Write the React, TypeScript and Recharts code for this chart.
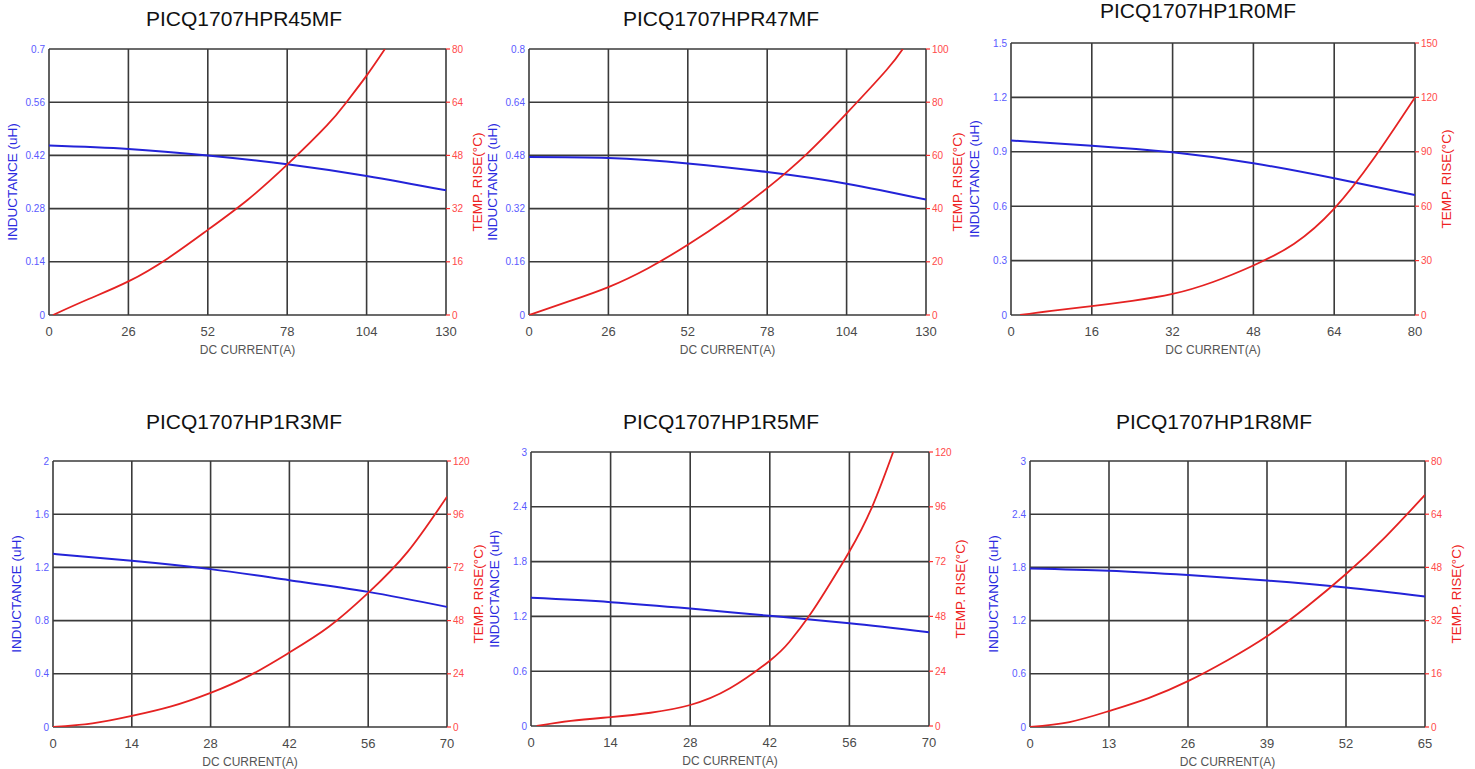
import React from 'react';
import { ComposedChart, Line, XAxis, YAxis, CartesianGrid } from 'recharts';

const FONT = "Arial, 'Liberation Sans', sans-serif";

// ---- Panel 1: PICQ1707HPR45MF ----
const p1Title = 'PICQ1707HPR45MF';
const p1CurrentTicks = [0, 26, 52, 78, 104, 130];
const p1InductanceTicks = [0, 0.14, 0.28, 0.42, 0.56, 0.7];
const p1TempTicks = [0, 16, 32, 48, 64, 80];
const p1LCurrent = [0, 26, 52, 78, 104, 130];
const p1Inductance = [0.446, 0.437, 0.42, 0.397, 0.366, 0.328];
const p1TCurrent = [1.3, 13, 26, 39, 52, 65, 78, 91, 97.4, 104, 110];
const p1TempRise = [0, 4.8, 10.1, 17.1, 25.6, 34.6, 45.2, 57, 64, 72, 80];

// ---- Panel 2: PICQ1707HPR47MF ----
const p2Title = 'PICQ1707HPR47MF';
const p2CurrentTicks = [0, 26, 52, 78, 104, 130];
const p2InductanceTicks = [0, 0.16, 0.32, 0.48, 0.64, 0.8];
const p2TempTicks = [0, 20, 40, 60, 80, 100];
const p2LCurrent = [0, 26, 52, 78, 104, 130];
const p2Inductance = [0.475, 0.472, 0.456, 0.43, 0.395, 0.347];
const p2TCurrent = [0, 13, 26, 39, 52, 65, 78, 91, 104, 117, 122.4];
const p2TempRise = [0, 5.1, 10.5, 17.6, 26.4, 36.4, 47.7, 60.6, 75.8, 92, 100];

// ---- Panel 3: PICQ1707HP1R0MF ----
const p3Title = 'PICQ1707HP1R0MF';
const p3CurrentTicks = [0, 16, 32, 48, 64, 80];
const p3InductanceTicks = [0, 0.3, 0.6, 0.9, 1.2, 1.5];
const p3TempTicks = [0, 30, 60, 90, 120, 150];
const p3LCurrent = [0, 16, 32, 48, 64, 80];
const p3Inductance = [0.962, 0.934, 0.897, 0.837, 0.754, 0.662];
const p3TCurrent = [1.8, 8, 16, 24, 32, 40, 48, 56, 64, 72, 80];
const p3TempRise = [0, 2.3, 4.9, 7.8, 11.6, 18.2, 27.3, 39.2, 58.7, 87, 120];

// ---- Panel 4: PICQ1707HP1R3MF ----
const p4Title = 'PICQ1707HP1R3MF';
const p4CurrentTicks = [0, 14, 28, 42, 56, 70];
const p4InductanceTicks = [0, 0.4, 0.8, 1.2, 1.6, 2];
const p4TempTicks = [0, 24, 48, 72, 96, 120];
const p4LCurrent = [0, 14, 28, 42, 56, 70];
const p4Inductance = [1.302, 1.25, 1.187, 1.104, 1.016, 0.903];
const p4TCurrent = [0, 7, 14, 21, 28, 35, 42, 49, 56, 63, 70];
const p4TempRise = [0, 1.6, 5.0, 9.3, 15.4, 23.3, 33.6, 45.2, 60.5, 79, 103.9];

// ---- Panel 5: PICQ1707HP1R5MF ----
const p5Title = 'PICQ1707HP1R5MF';
const p5CurrentTicks = [0, 14, 28, 42, 56, 70];
const p5InductanceTicks = [0, 0.6, 1.2, 1.8, 2.4, 3];
const p5TempTicks = [0, 24, 48, 72, 96, 120];
const p5LCurrent = [0, 14, 28, 42, 56, 70];
const p5Inductance = [1.403, 1.356, 1.286, 1.206, 1.125, 1.027];
const p5TCurrent = [1, 7, 14, 21, 28, 35, 42, 45.5, 49, 52, 56, 60, 63.7];
const p5TempRise = [0, 2.2, 3.9, 5.8, 9.2, 16.5, 28.6, 37, 48.5, 60, 76.4, 96, 120];

// ---- Panel 6: PICQ1707HP1R8MF ----
const p6Title = 'PICQ1707HP1R8MF';
const p6CurrentTicks = [0, 13, 26, 39, 52, 65];
const p6InductanceTicks = [0, 0.6, 1.2, 1.8, 2.4, 3];
const p6TempTicks = [0, 16, 32, 48, 64, 80];
const p6LCurrent = [0, 13, 26, 39, 52, 65];
const p6Inductance = [1.788, 1.762, 1.713, 1.652, 1.573, 1.472];
const p6TCurrent = [0, 6.5, 13, 19.5, 26, 32.5, 39, 45.5, 52, 58.5, 65];
const p6TempRise = [0, 1.5, 4.8, 8.7, 13.8, 20.1, 27.3, 36.1, 46, 57.2, 69.8];

type Spec = {
  title: string;
  titleX: number;
  titleTop: number;
  left: number;
  right: number;
  top: number;
  bottom: number;
  xTicks: number[];
  lTicks: number[];
  tTicks: number[];
  lX: number[];
  lY: number[];
  tX: number[];
  tY: number[];
};

const specs: Spec[] = [
  { title: p1Title, titleX: 244, titleTop: 8, left: 49, right: 446, top: 49, bottom: 315,
    xTicks: p1CurrentTicks, lTicks: p1InductanceTicks, tTicks: p1TempTicks,
    lX: p1LCurrent, lY: p1Inductance, tX: p1TCurrent, tY: p1TempRise },
  { title: p2Title, titleX: 721, titleTop: 8, left: 529, right: 926, top: 49, bottom: 315,
    xTicks: p2CurrentTicks, lTicks: p2InductanceTicks, tTicks: p2TempTicks,
    lX: p2LCurrent, lY: p2Inductance, tX: p2TCurrent, tY: p2TempRise },
  { title: p3Title, titleX: 1198, titleTop: 0, left: 1011, right: 1415, top: 43, bottom: 315,
    xTicks: p3CurrentTicks, lTicks: p3InductanceTicks, tTicks: p3TempTicks,
    lX: p3LCurrent, lY: p3Inductance, tX: p3TCurrent, tY: p3TempRise },
  { title: p4Title, titleX: 244, titleTop: 411, left: 53, right: 447, top: 461, bottom: 727,
    xTicks: p4CurrentTicks, lTicks: p4InductanceTicks, tTicks: p4TempTicks,
    lX: p4LCurrent, lY: p4Inductance, tX: p4TCurrent, tY: p4TempRise },
  { title: p5Title, titleX: 721, titleTop: 411, left: 531, right: 929, top: 452, bottom: 726,
    xTicks: p5CurrentTicks, lTicks: p5InductanceTicks, tTicks: p5TempTicks,
    lX: p5LCurrent, lY: p5Inductance, tX: p5TCurrent, tY: p5TempRise },
  { title: p6Title, titleX: 1214, titleTop: 411, left: 1030, right: 1425, top: 461, bottom: 727,
    xTicks: p6CurrentTicks, lTicks: p6InductanceTicks, tTicks: p6TempTicks,
    lX: p6LCurrent, lY: p6Inductance, tX: p6TCurrent, tY: p6TempRise },
];

const LW = 50;
const RW = 45;
const TOP = 10;
const XH = 45;

function Panel({ spec }: { spec: Spec }) {
  const W = spec.right - spec.left;
  const H = spec.bottom - spec.top;
  const lData = spec.lX.map((x, i) => ({ x, v: spec.lY[i] }));
  const tData = spec.tX.map((x, i) => ({ x, v: spec.tY[i] }));
  const xMax = spec.xTicks[spec.xTicks.length - 1];
  const lMax = spec.lTicks[spec.lTicks.length - 1];
  const tMax = spec.tTicks[spec.tTicks.length - 1];
  return (
    <>
      <div
        style={{
          position: 'absolute',
          left: spec.titleX - 200,
          width: 400,
          top: spec.titleTop,
          textAlign: 'center',
          fontFamily: FONT,
          fontSize: 21,
          lineHeight: '21px',
          color: '#111',
        }}
      >
        {spec.title}
      </div>
      <div style={{ position: 'absolute', left: spec.left - LW, top: spec.top - TOP }}>
        <ComposedChart
          width={W + LW + RW}
          height={H + TOP + XH}
          margin={{ top: TOP, right: 0, bottom: 0, left: 0 }}
        >
          <CartesianGrid yAxisId="L" stroke="#3a3a3a" strokeWidth={1.6} fill="none" />
          <XAxis
            type="number"
            dataKey="x"
            domain={[0, xMax]}
            ticks={spec.xTicks}
            interval={0}
            allowDataOverflow
            height={XH}
            tickSize={0}
            tickMargin={12}
            tickLine={false}
            axisLine={false}
            tick={{ fill: '#4a4a4a', fontSize: 13, fontFamily: FONT }}
            label={{
              value: 'DC CURRENT(A)',
              position: 'insideBottom',
              offset: 6,
              fill: '#555',
              fontSize: 12,
              fontFamily: FONT,
            }}
          />
          <YAxis
            yAxisId="L"
            orientation="left"
            type="number"
            domain={[0, lMax]}
            ticks={spec.lTicks}
            interval={0}
            allowDataOverflow
            width={LW}
            tickSize={0}
            tickMargin={4}
            tickLine={false}
            axisLine={false}
            tick={{ fill: '#5a5aff', fontSize: 10, fontFamily: FONT }}
            label={{
              value: 'INDUCTANCE (uH)',
              angle: -90,
              position: 'insideLeft',
              offset: 13,
              fill: '#2a2ae0',
              fontSize: 13.5,
              fontFamily: FONT,
              style: { textAnchor: 'middle' },
            }}
          />
          <YAxis
            yAxisId="T"
            orientation="right"
            type="number"
            domain={[0, tMax]}
            ticks={spec.tTicks}
            interval={0}
            allowDataOverflow
            width={RW}
            tickSize={4}
            tickMargin={2}
            tickLine={{ stroke: '#ff3030', strokeWidth: 1.2 }}
            axisLine={false}
            tick={{ fill: '#ff4a4a', fontSize: 10, fontFamily: FONT }}
            label={{
              value: 'TEMP. RISE(°C)',
              angle: -90,
              position: 'insideRight',
              offset: 14,
              fill: '#ee2222',
              fontSize: 13.5,
              fontFamily: FONT,
              style: { textAnchor: 'middle' },
            }}
          />
          <Line
            yAxisId="L"
            data={lData}
            dataKey="v"
            type="natural"
            stroke="#2323d8"
            strokeWidth={2}
            dot={false}
            activeDot={false}
            isAnimationActive={false}
          />
          <Line
            yAxisId="T"
            data={tData}
            dataKey="v"
            type="natural"
            stroke="#e52222"
            strokeWidth={1.8}
            dot={false}
            activeDot={false}
            isAnimationActive={false}
          />
        </ComposedChart>
      </div>
    </>
  );
}

export default function App() {
  return (
    <div
      style={{
        position: 'absolute',
        left: 0,
        top: 0,
        width: 1475,
        height: 769,
        background: '#fff',
        overflow: 'hidden',
      }}
    >
      {specs.map((s) => (
        <Panel key={s.title} spec={s} />
      ))}
    </div>
  );
}
